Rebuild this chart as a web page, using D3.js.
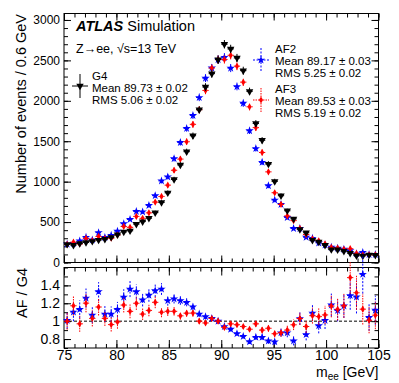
<!DOCTYPE html>
<html>
<head>
<meta charset="utf-8">
<script src="https://cdn.jsdelivr.net/npm/d3@7"></script>
<style>
body{margin:0;background:#fff}
text{font-family:"Liberation Sans",Arial,Helvetica,sans-serif}
</style>
</head>
<body>
<svg id="chart" width="399" height="383"></svg>
<script>
// bin centres of m_ee, 0.6 GeV bins
var binCenters = [75.3,75.9,76.5,77.1,77.7,78.3,78.9,79.5,80.1,80.7,
                  81.3,81.9,82.5,83.1,83.7,84.3,84.9,85.5,86.1,86.7,
                  87.3,87.9,88.5,89.1,89.7,90.3,90.9,91.5,92.1,92.7,
                  93.3,93.9,94.5,95.1,95.7,96.3,96.9,97.5,98.1,98.7,
                  99.3,99.9,100.5,101.1,101.7,102.3,102.9,103.5,104.1,104.7];

var g4  = [225,215,236,248,262,278,288,312,343,378,
           392,475,506,548,617,743,862,1028,1207,1371,
           1568,1890,2171,2336,2510,2700,2642,2530,2373,2117,
           1720,1512,1218,1004,826,640,540,410,368,275,
           255,215,160,158,140,115,85,82,95,90];

var af2 = [227,237,267,312,280,370,311,337,388,480,
           533,632,627,707,827,1010,1060,1285,1485,1659,
           1819,2041,2280,2406,2510,2538,2404,2176,1970,1630,
           1410,1240,950,773,719,557,421,422,313,300,
           242,217,189,177,164,148,108,125,99,101];

var af3 = [225,252,229,298,270,322,297,300,340,446,
           435,570,546,614,747,817,957,1141,1279,1494,
           1709,1890,2128,2406,2510,2511,2563,2429,2231,1926,
           1668,1361,1121,863,719,576,518,422,346,292,
           268,230,187,179,164,171,112,93,96,96];

var xTicks = [75,80,85,90,95,100,105];
var yTicks = [0,500,1000,1500,2000,2500,3000];
var ratioTicks = [0.8,1,1.2,1.4];
var ratioLabels = ["0.8","1","1.2","1.4"];

var legendG4  = ["G4","Mean 89.73 \u00b1 0.02","RMS 5.06 \u00b1 0.02"];
var legendAF2 = ["AF2","Mean 89.17 \u00b1 0.03","RMS 5.25 \u00b1 0.02"];
var legendAF3 = ["AF3","Mean 89.53 \u00b1 0.03","RMS 5.19 \u00b1 0.02"];

var svg = d3.select("#chart");
var L = 64, R = 378.5;
var topT = 13.5, topB = 262.5, ratT = 267.5, ratB = 348;
var halfBin = 0.3;

var x = d3.scaleLinear().domain([75,105]).range([L,R]);
var y = d3.scaleLinear().domain([0,3080]).range([topB,topT]);
var yr = d3.scaleLinear().domain([0.7,1.6]).range([ratB,ratT]);

var minorX = d3.range(75,106,1);
var minorY = d3.range(0,3081,100);
var minorR = d3.range(0.7,1.61,0.1);

function cleanAxis(sel){ sel.select(".domain").remove(); sel.selectAll("line").attr("stroke","#000"); }

// ---------- top panel axes ----------
var gTop = svg.append("g");
gTop.append("g").attr("transform","translate("+L+",0)")
  .call(d3.axisLeft(y).tickValues(yTicks).tickSize(-7).tickPadding(4).tickFormat(d3.format("d")))
  .call(cleanAxis).selectAll("text").style("font-size","12px").attr("fill","#000");
gTop.append("g").attr("transform","translate("+L+",0)")
  .call(d3.axisLeft(y).tickValues(minorY).tickSize(-4).tickFormat("")).call(cleanAxis);
gTop.append("g").attr("transform","translate("+R+",0)")
  .call(d3.axisRight(y).tickValues(yTicks).tickSize(-7).tickFormat("")).call(cleanAxis);
gTop.append("g").attr("transform","translate("+R+",0)")
  .call(d3.axisRight(y).tickValues(minorY).tickSize(-4).tickFormat("")).call(cleanAxis);
[[topB,"bottom"],[topT,"top"]].forEach(function(p){
  var ax = p[1]=="bottom" ? d3.axisBottom : d3.axisTop;
  gTop.append("g").attr("transform","translate(0,"+p[0]+")")
    .call(ax(x).tickValues(xTicks).tickSize(-7).tickFormat("")).call(cleanAxis);
  gTop.append("g").attr("transform","translate(0,"+p[0]+")")
    .call(ax(x).tickValues(minorX).tickSize(-4).tickFormat("")).call(cleanAxis);
});
gTop.append("rect").attr("x",L).attr("y",topT).attr("width",R-L).attr("height",topB-topT)
  .attr("fill","none").attr("stroke","#000");

// ---------- ratio panel axes ----------
var gRat = svg.append("g");
gRat.append("g").attr("transform","translate("+L+",0)")
  .call(d3.axisLeft(yr).tickValues(ratioTicks).tickSize(-7).tickPadding(4)
        .tickFormat(function(d,i){ return ratioLabels[i]; }))
  .call(cleanAxis).selectAll("text").style("font-size","14px").attr("fill","#000");
gRat.append("g").attr("transform","translate("+L+",0)")
  .call(d3.axisLeft(yr).tickValues(minorR).tickSize(-4).tickFormat("")).call(cleanAxis);
gRat.append("g").attr("transform","translate("+R+",0)")
  .call(d3.axisRight(yr).tickValues(ratioTicks).tickSize(-7).tickFormat("")).call(cleanAxis);
gRat.append("g").attr("transform","translate("+R+",0)")
  .call(d3.axisRight(yr).tickValues(minorR).tickSize(-4).tickFormat("")).call(cleanAxis);
gRat.append("g").attr("transform","translate(0,"+ratB+")")
  .call(d3.axisBottom(x).tickValues(xTicks).tickSize(-8).tickPadding(2).tickFormat(d3.format("d")))
  .call(cleanAxis).selectAll("text").style("font-size","14px").attr("fill","#000");
gRat.append("g").attr("transform","translate(0,"+ratB+")")
  .call(d3.axisBottom(x).tickValues(minorX).tickSize(-4).tickFormat("")).call(cleanAxis);
gRat.append("g").attr("transform","translate(0,"+ratT+")")
  .call(d3.axisTop(x).tickValues(xTicks).tickSize(-8).tickFormat("")).call(cleanAxis);
gRat.append("g").attr("transform","translate(0,"+ratT+")")
  .call(d3.axisTop(x).tickValues(minorX).tickSize(-4).tickFormat("")).call(cleanAxis);
gRat.append("rect").attr("x",L).attr("y",ratT).attr("width",R-L).attr("height",ratB-ratT)
  .attr("fill","none").attr("stroke","#000");
gRat.append("line").attr("x1",L).attr("x2",R).attr("y1",yr(1)).attr("y2",yr(1))
  .attr("stroke","#000").attr("stroke-dasharray","3,2");

// ---------- axis titles ----------
svg.append("text").attr("transform","translate(26,14) rotate(-90)").attr("text-anchor","end")
  .style("font-size","14.5px").text("Number of events / 0.6 GeV");
svg.append("text").attr("transform","translate(27,268) rotate(-90)").attr("text-anchor","end")
  .style("font-size","14.5px").text("AF / G4");
var xt = svg.append("text").attr("x",R).attr("y",377).attr("text-anchor","end").style("font-size","14px");
xt.append("tspan").text("m");
xt.append("tspan").attr("dy",3).style("font-size","10px").text("ee");
xt.append("tspan").attr("dy",-3).text(" [GeV]");

// ---------- marks ----------
var triDown = d3.symbol().type(d3.symbolTriangle).size(24);
var star = d3.symbol().type(d3.symbolStar).size(22);
var diamond = d3.symbol().type(d3.symbolDiamond).size(15);

var series = [
  {vals: af2, color: "#0000ff", dash: "2,1.5", sym: star, rot: 0},
  {vals: af3, color: "#ff0000", dash: "1.5,1", sym: diamond, rot: 0},
  {vals: g4,  color: "#000000", dash: null,    sym: triDown, rot: 180}
];

function drawPoints(g, yScale, vals, errs, s){
  var grp = g.append("g");
  vals.forEach(function(v,i){
    var cx = x(binCenters[i]), cy = yScale(v);
    grp.append("line").attr("x1",cx).attr("x2",cx)
      .attr("y1",yScale(v-errs[i])).attr("y2",yScale(v+errs[i]))
      .attr("stroke",s.color).attr("stroke-dasharray",s.dash);
    grp.append("line").attr("x1",x(binCenters[i]-halfBin)).attr("x2",x(binCenters[i]+halfBin))
      .attr("y1",cy).attr("y2",cy).attr("stroke",s.color).attr("stroke-dasharray",s.dash);
    grp.append("path").attr("d",s.sym())
      .attr("transform","translate("+cx+","+cy+") rotate("+s.rot+")")
      .attr("fill",s.color);
  });
}

var gMarks = svg.append("g");
series.forEach(function(s){
  var errs = s.vals.map(function(v){ return Math.sqrt(v); });
  drawPoints(gMarks, y, s.vals, errs, s);
});

var gRMarks = svg.append("g");
series.slice(0,2).forEach(function(s){
  var ratio = s.vals.map(function(v,i){ return v/g4[i]; });
  var errs = ratio.map(function(r,i){ return r*Math.sqrt(1/s.vals[i] + 1/g4[i]); });
  drawPoints(gRMarks, yr, ratio, errs, s);
});

// ---------- labels & legend ----------
var atl = svg.append("text").attr("x",76).attr("y",30.5).style("font-size","14.5px");
atl.append("tspan").style("font-weight","bold").style("font-style","italic").text("ATLAS");
atl.append("tspan").text(" Simulation");
svg.append("text").attr("x",76).attr("y",52.5).style("font-size","12.5px")
  .text("Z\u2192ee, \u221as=13 TeV");

function legendEntry(mx, my, tx, ty, lines, s){
  var g = svg.append("g");
  g.append("line").attr("x1",mx).attr("x2",mx).attr("y1",my-12).attr("y2",my+12)
    .attr("stroke",s.color).attr("stroke-dasharray",s.dash);
  g.append("line").attr("x1",mx-8).attr("x2",mx+8).attr("y1",my).attr("y2",my)
    .attr("stroke",s.color).attr("stroke-dasharray",s.dash);
  g.append("path").attr("d",s.sym()).attr("transform","translate("+mx+","+my+") rotate("+s.rot+")")
    .attr("fill",s.color);
  lines.forEach(function(t,i){
    g.append("text").attr("x",tx).attr("y",ty+i*12).style("font-size","11.5px").text(t);
  });
}
legendEntry(80, 86, 92, 80, legendG4, series[2]);
legendEntry(261, 60, 275, 53, legendAF2, series[0]);
legendEntry(261, 100, 275, 93, legendAF3, series[1]);
</script>
</body>
</html>
